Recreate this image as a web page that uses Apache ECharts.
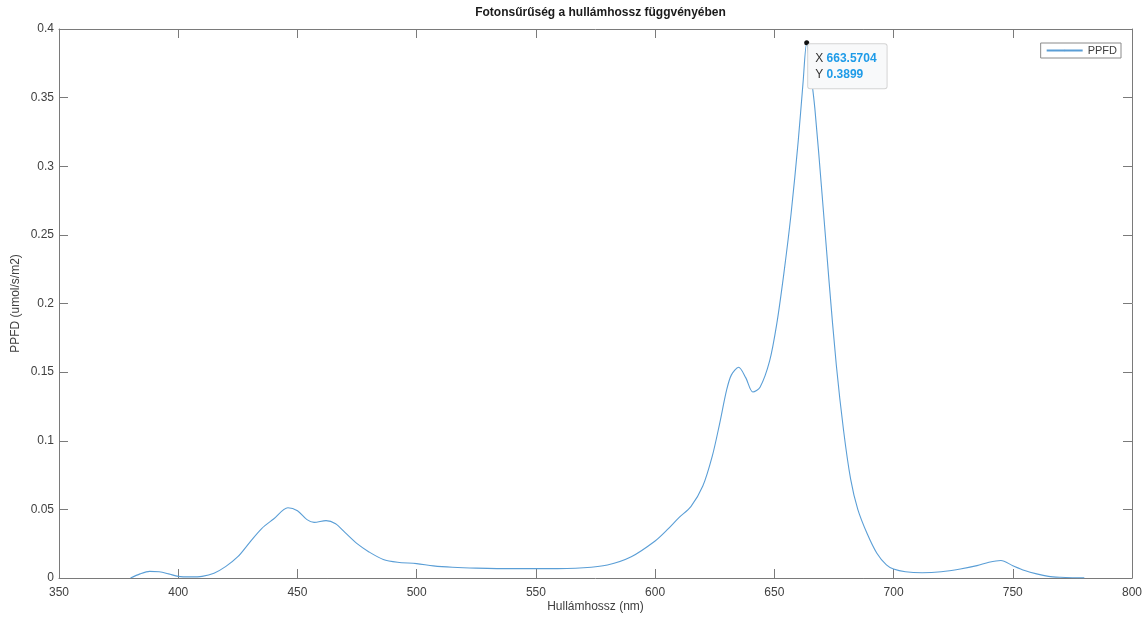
<!DOCTYPE html>
<html>
<head>
<meta charset="utf-8">
<script src="https://cdn.jsdelivr.net/npm/echarts@6/dist/echarts.min.js"></script>
<style>
html, body { margin: 0; padding: 0; background: #fff; }
#chart { width: 1142px; height: 617px; }
</style>
</head>
<body>
<div id="chart"></div>
<script>
// hullámhossz (nm)
var wavelength = [380, 384, 388, 392, 396, 400, 405, 410, 415, 420, 425, 430, 435, 440, 446, 450, 454, 457, 462, 466,
	470, 475, 480, 486, 492, 500, 507, 515, 525, 540, 555, 570, 580, 590, 600, 605, 610, 615, 620, 624,
	627, 630, 632, 635, 638, 641, 644, 648, 651, 654, 657, 660, 662, 663.5704, 665, 667, 670, 673, 676, 679,
	682, 685, 689, 693, 697, 700, 705, 712, 720, 728, 735, 740, 745, 750, 755, 760, 765, 770, 775, 780];
// PPFD (umol/s/m2)
var ppfd = [0, 0.003, 0.0048, 0.0045, 0.003, 0.0012, 0.0008, 0.0012, 0.0035, 0.0085, 0.0155, 0.026, 0.036, 0.043, 0.0512, 0.049, 0.0425, 0.0405, 0.0418, 0.0395,
	0.033, 0.025, 0.019, 0.0135, 0.0115, 0.0105, 0.0088, 0.0078, 0.0072, 0.0068, 0.0068, 0.0075, 0.0095, 0.0155, 0.027, 0.035, 0.044, 0.052, 0.067, 0.089,
	0.112, 0.137, 0.148, 0.1535, 0.146, 0.1355, 0.139, 0.158, 0.185, 0.222, 0.265, 0.318, 0.36, 0.3899, 0.372, 0.342, 0.28, 0.215, 0.155, 0.108,
	0.072, 0.05, 0.032, 0.018, 0.0095, 0.0065, 0.0045, 0.0038, 0.0045, 0.0065, 0.009, 0.0115, 0.0128, 0.009, 0.0055, 0.003, 0.0012, 0.0005, 0.0002, 0.0001];

// adatpont (data tip)
var tip_x = 663.5704;
var tip_y = 0.3899;

var x_ticks = [350, 800, 50];   // min, max, interval
var y_ticks = [0, 0.4, 0.05];

var the_chart;

function build_points(){
	var pts = [];
	for (var i = 0; i < wavelength.length; i++) {
		pts.push([wavelength[i], ppfd[i]]);
	}
	return pts;
}

function chart_ppfd(){
	the_chart = echarts.init(document.getElementById("chart"));
	var axis_color = '#7a7a7a';
	var text_color = '#404040';
	var font = 'Liberation Sans, Arial, sans-serif';
	var option = {
		animation: false,
		title: {
			text: 'Fotonsűrűség a hullámhossz függvényében',
			left: 595.5,
			textAlign: 'center',
			top: 2,
			textStyle: {
				fontFamily: font,
				fontSize: 12,
				fontWeight: 'bold',
				color: '#1a1a1a'
			}
		},
		legend: {
			data: ['PPFD'],
			right: 21,
			top: 43,
			orient: 'vertical',
			itemWidth: 36,
			itemHeight: 2,
			itemGap: 4,
			padding: [2, 4, 2, 5],
			borderColor: '#8a8a8a',
			borderWidth: 1,
			backgroundColor: '#fff',
			textStyle: {
				fontFamily: font,
				fontSize: 11,
				color: text_color
			}
		},
		grid: {
			left: 59,
			right: 10,
			top: 29,
			bottom: 39,
			containLabel: false,
			outerBoundsMode: 'none'
		},
		xAxis: [
			{
				type: 'value',
				min: x_ticks[0],
				max: x_ticks[1],
				interval: x_ticks[2],
				name: 'Hullámhossz (nm)',
				nameLocation: 'middle',
				nameGap: 23,
				nameMoveOverlap: false,
				nameTextStyle: { fontFamily: font, fontSize: 12, color: text_color },
				axisLine: { show: true, onZero: false, lineStyle: { color: axis_color, width: 1 } },
				axisTick: { show: true, inside: true, length: 9, lineStyle: { color: axis_color } },
				axisLabel: { fontFamily: font, fontSize: 12, color: text_color, margin: 9 },
				splitLine: { show: false }
			},
			{
				type: 'value',
				position: 'top',
				min: x_ticks[0],
				max: x_ticks[1],
				interval: x_ticks[2],
				axisLine: { show: true, onZero: false, lineStyle: { color: axis_color, width: 1 } },
				axisTick: { show: true, inside: true, length: 9, lineStyle: { color: axis_color } },
				axisLabel: { show: false },
				splitLine: { show: false }
			}
		],
		yAxis: [
			{
				type: 'value',
				min: y_ticks[0],
				max: y_ticks[1],
				interval: y_ticks[2],
				name: 'PPFD (umol/s/m2)',
				nameLocation: 'middle',
				nameGap: 37,
				nameMoveOverlap: false,
				nameTextStyle: { fontFamily: font, fontSize: 12, color: text_color },
				axisLine: { show: true, onZero: false, lineStyle: { color: axis_color, width: 1 } },
				axisTick: { show: true, inside: true, length: 9, lineStyle: { color: axis_color } },
				axisLabel: { fontFamily: font, fontSize: 12, color: text_color, margin: 5 },
				splitLine: { show: false }
			},
			{
				type: 'value',
				position: 'right',
				min: y_ticks[0],
				max: y_ticks[1],
				interval: y_ticks[2],
				axisLine: { show: true, onZero: false, lineStyle: { color: axis_color, width: 1 } },
				axisTick: { show: true, inside: true, length: 9, lineStyle: { color: axis_color } },
				axisLabel: { show: false },
				splitLine: { show: false }
			}
		],
		series: [
			{
				name: 'PPFD',
				type: 'line',
				smooth: 0.3,
				symbol: 'none',
				lineStyle: { color: '#5a9ed6', width: 1.1 },
				itemStyle: { color: '#5a9ed6' },
				data: build_points(),
				markPoint: {
					symbol: 'circle',
					symbolSize: 5,
					itemStyle: { color: '#111' },
					data: [{ coord: [tip_x, tip_y] }],
					label: {
						show: true,
						position: [4, 4],
						align: 'left',
						verticalAlign: 'top',
						backgroundColor: '#f8f9fa',
						borderColor: '#d4d4d4',
						borderWidth: 1,
						borderRadius: 2,
						padding: [6, 10, 6, 7],
						formatter: function(p){
							return '{k|X }{v|' + p.data.coord[0] + '}\n{k|Y }{v|' + p.data.coord[1] + '}';
						},
						rich: {
							k: { fontFamily: font, fontSize: 12, color: '#333', lineHeight: 16 },
							v: { fontFamily: font, fontSize: 12, fontWeight: 'bold', color: '#1e9be8', lineHeight: 16 }
						}
					}
				}
			}
		]
	};
	the_chart.setOption(option);
}

chart_ppfd();
</script>
</body>
</html>
